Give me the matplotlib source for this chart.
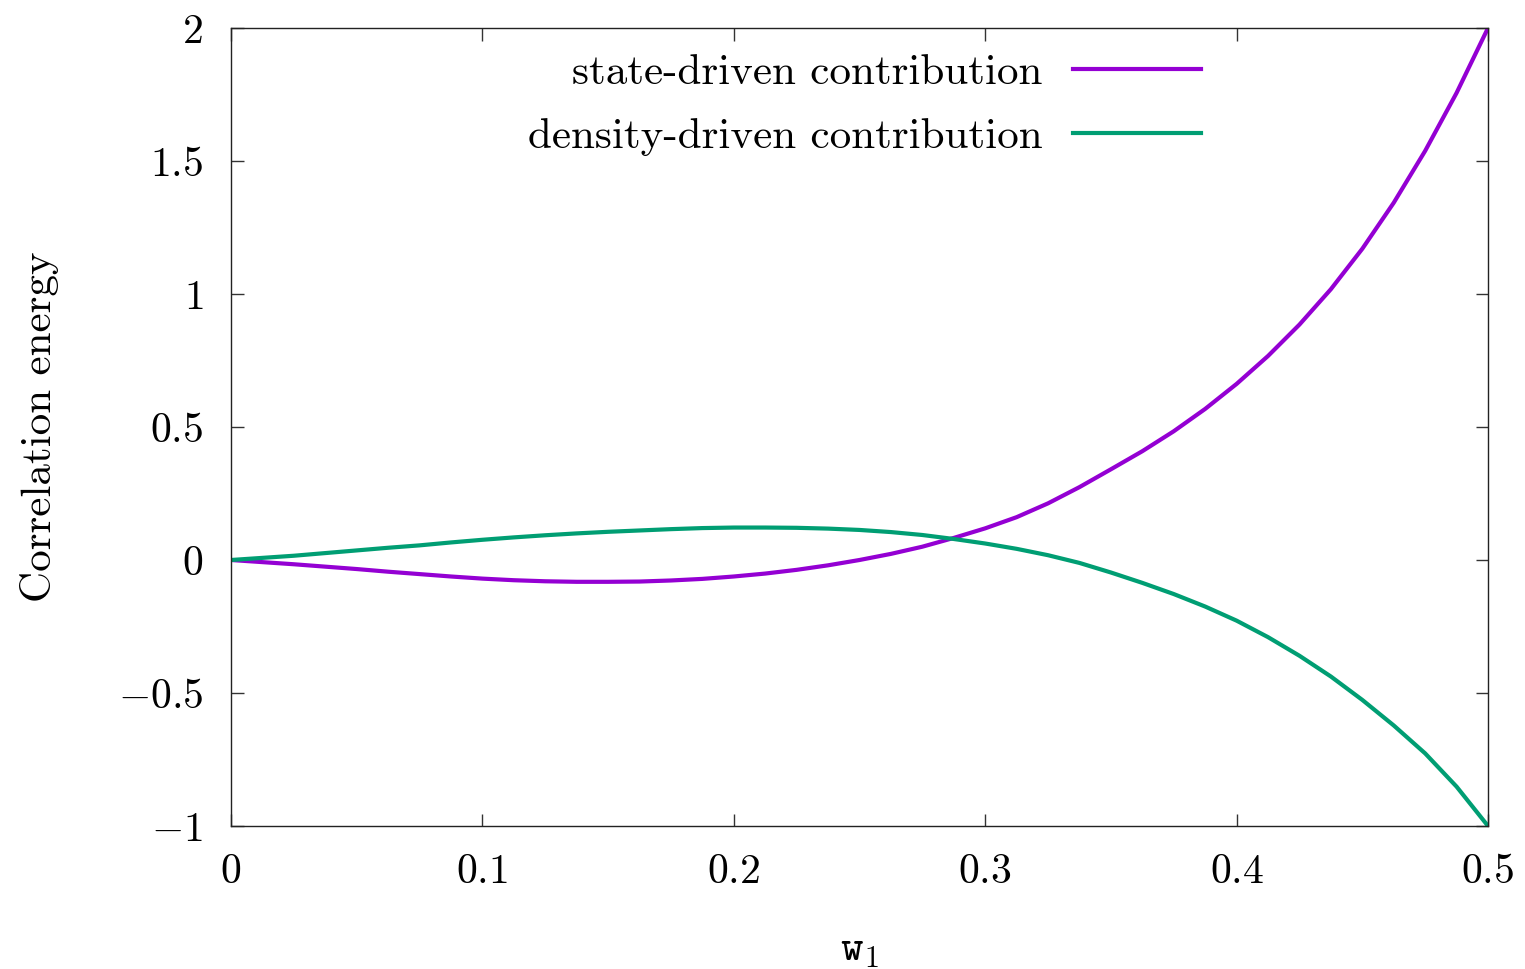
import matplotlib
matplotlib.use("Agg")
import matplotlib.pyplot as plt

# ---- data ----
w1 = [0.0, 0.0125, 0.025, 0.0375, 0.05, 0.0625, 0.075, 0.0875, 0.1, 0.1125,
      0.125, 0.1375, 0.15, 0.1625, 0.175, 0.1875, 0.2, 0.2125, 0.225, 0.2375,
      0.25, 0.2625, 0.275, 0.2875, 0.3, 0.3125, 0.325, 0.3375, 0.35, 0.3625,
      0.375, 0.3875, 0.4, 0.4125, 0.425, 0.4375, 0.45, 0.4625, 0.475, 0.4875,
      0.5]
state_driven = [0.0, -0.008, -0.016, -0.025, -0.034, -0.044, -0.053, -0.062,
                -0.070, -0.076, -0.080, -0.082, -0.082, -0.081, -0.077, -0.071,
                -0.062, -0.051, -0.037, -0.020, 0.000, 0.023, 0.050, 0.083,
                0.119, 0.161, 0.213, 0.274, 0.341, 0.409, 0.484, 0.568, 0.662,
                0.767, 0.885, 1.018, 1.170, 1.343, 1.538, 1.756, 2.0]
density_driven = [0.0, 0.008, 0.016, 0.026, 0.036, 0.046, 0.055, 0.066,
                  0.076, 0.085, 0.093, 0.100, 0.106, 0.111, 0.116, 0.120,
                  0.122, 0.122, 0.121, 0.118, 0.113, 0.105, 0.094, 0.079,
                  0.062, 0.042, 0.018, -0.011, -0.047, -0.086, -0.128, -0.175,
                  -0.228, -0.290, -0.360, -0.438, -0.526, -0.622, -0.727,
                  -0.852, -1.0]
xticks = [0.0, 0.1, 0.2, 0.3, 0.4, 0.5]
xticklabels = ["$0$", "$0.1$", "$0.2$", "$0.3$", "$0.4$", "$0.5$"]
yticks = [-1.0, -0.5, 0.0, 0.5, 1.0, 1.5, 2.0]
yticklabels = ["$-1$", "$-0.5$", "$0$", "$0.5$", "$1$", "$1.5$", "$2$"]
series_labels = ["state-driven contribution", "density-driven contribution"]
colors = ["#9400D3", "#009E73"]

plt.rcParams["mathtext.fontset"] = "cm"
plt.rcParams["font.family"] = ["cmr10", "DejaVu Serif"]
plt.rcParams["axes.unicode_minus"] = False

fig = plt.figure(figsize=(15.25, 9.69), dpi=100)
ax = fig.add_axes([231 / 1525, 1 - 826 / 969, (1488 - 231) / 1525, (826 - 28) / 969])

ax.plot(w1, state_driven, color=colors[0], lw=3.0, label=series_labels[0],
        solid_joinstyle="round")
ax.plot(w1, density_driven, color=colors[1], lw=3.0, label=series_labels[1],
        solid_joinstyle="round")

ax.set_xlim(0, 0.5)
ax.set_ylim(-1, 2)
ax.set_xticks(xticks)
ax.set_xticklabels(xticklabels)
ax.set_yticks(yticks)
ax.set_yticklabels(yticklabels)
ax.tick_params(direction="in", length=9, width=1.0, top=True, right=True,
               labelsize=30, color="#333333")
ax.tick_params(axis="x", pad=20)
ax.tick_params(axis="y", pad=20)
for s in ax.spines.values():
    s.set_linewidth(1.0)
    s.set_color("#222222")

ax.set_ylabel("Correlation energy", fontsize=31, labelpad=42)
ax.set_xlabel(r"$\mathtt{w}_1$", fontsize=31, labelpad=30)

leg = ax.legend(loc="upper right", bbox_to_anchor=((1201 - 231) / 1257, 0.967),
                frameon=False, markerfirst=False, fontsize=31,
                handlelength=2.97, handletextpad=0.72, labelspacing=0.59,
                borderpad=0, borderaxespad=0)
for t in leg.get_texts():
    t.set_ha("right")

fig.savefig("out.png", dpi=100)
